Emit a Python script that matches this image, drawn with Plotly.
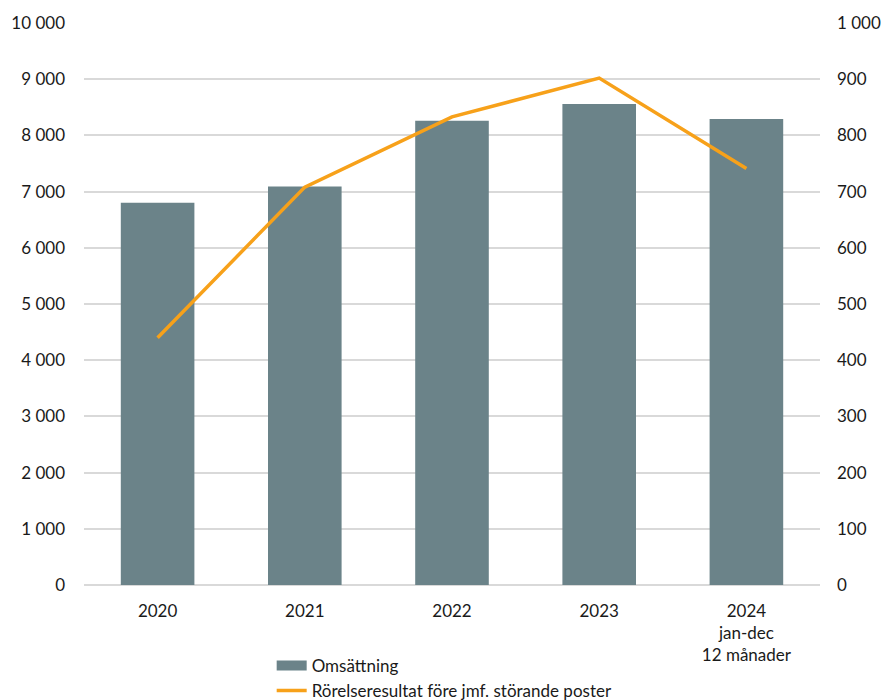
import plotly.graph_objects as go

categories = ["2020", "2021", "2022", "2023", "2024<br>jan-dec<br>12 månader"]
omsattning = [6800, 7090, 8260, 8560, 8290]
rorelseresultat = [440, 708, 833, 902, 741]
left_ticks = list(range(0, 10001, 1000))
right_ticks = list(range(0, 1001, 100))

font_family = "Lato, 'Noto Sans', sans-serif"
text_color = "#1a1a1a"
grid_color = "#d9d9d9"
bar_color = "#6b8389"

fig = go.Figure()
fig.add_trace(go.Bar(
    x=categories, y=omsattning, name="Omsättning",
    marker=dict(color=bar_color, line=dict(width=0)),
    width=0.5, yaxis="y", showlegend=False,
))
# legend entry for the bars, drawn as a wide rectangle like the reference
fig.add_trace(go.Scatter(
    x=[None], y=[None], name="Omsättning", mode="lines",
    line=dict(color=bar_color, width=14), yaxis="y",
))
fig.add_trace(go.Scatter(
    x=categories, y=rorelseresultat, name="Rörelseresultat före jmf. störande poster",
    mode="lines", line=dict(color="#f7a11a", width=3.5), yaxis="y2",
))

fig.update_layout(
    width=883, height=700,
    margin=dict(l=84, r=63, t=23, b=115, autoexpand=False),
    paper_bgcolor="white", plot_bgcolor="white",
    separators=", ",
    font=dict(family=font_family, size=17, color=text_color),
    xaxis=dict(type="category", showgrid=False, showline=False, ticks="",
               automargin=False, ticklabelstandoff=14),
    yaxis=dict(range=[0, 10000], tickvals=left_ticks, tickformat=",d",
               showgrid=True, gridcolor=grid_color, gridwidth=1.5,
               zeroline=True, zerolinecolor=grid_color, zerolinewidth=1.5,
               showline=False, ticks="", automargin=False, ticklabelstandoff=18),
    yaxis2=dict(range=[0, 1000], tickvals=right_ticks, tickformat=",d",
                overlaying="y", side="right", showgrid=False, zeroline=False,
                showline=False, ticks="", automargin=False, ticklabelstandoff=16),
    showlegend=True,
    legend=dict(orientation="v", x=0.255, xanchor="left", y=-0.112, yanchor="top",
                font=dict(size=17), tracegroupgap=0,
                bgcolor="rgba(0,0,0,0)"),
)

fig.write_html("out.html", config={"displayModeBar": False},
               post_script="document.body.style.margin='0';")
